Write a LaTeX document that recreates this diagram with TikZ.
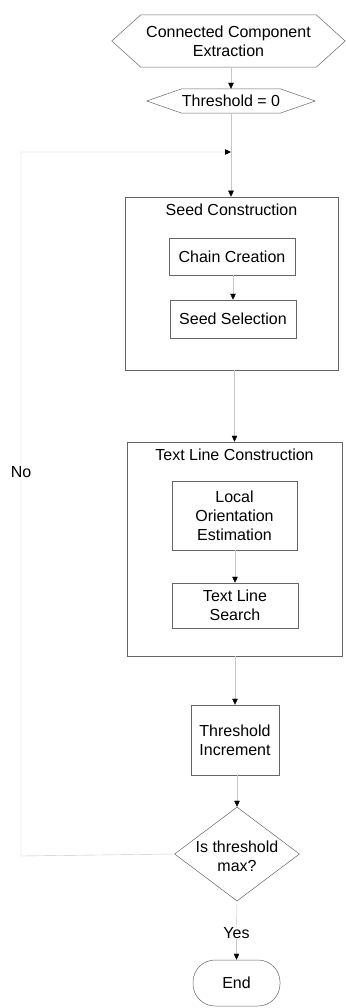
\documentclass[tikz,border=0pt]{standalone}
\usepackage{fontspec}
\setmainfont{Liberation Sans}
\usetikzlibrary{arrows.meta,shapes.geometric,calc}
\begin{document}
\begin{tikzpicture}[x=1pt,y=-1pt,
  every node/.style={font=\fontsize{16}{19}\selectfont, text=black, inner sep=0pt, align=center},
  outline/.style={draw=black!60, line width=0.5pt},
  boxnode/.style={outline, rectangle},
  conn/.style={draw=black!22, line width=0.4pt, -{Triangle[color=black,length=6pt,width=5.5pt]}},
  plainline/.style={draw=black!22, line width=0.4pt},
]
\useasboundingbox (0,0) rectangle (345,1008);

% Connected Component Extraction (hexagon)
\node[minimum width=233pt, minimum height=52pt] (cce) at (228.5,41) {Connected Component\\Extraction};
\draw[outline] (cce.west) -- ([xshift=29pt]cce.north west) -- ([xshift=-29pt]cce.north east) -- (cce.east) -- ([xshift=-29pt]cce.south east) -- ([xshift=29pt]cce.south west) -- cycle;

% Threshold = 0 (hexagon)
\node[minimum width=168pt, minimum height=24pt] (th0) at (231,101) {Threshold = 0};
\draw[outline] (th0.west) -- ([xshift=35pt]th0.north west) -- ([xshift=-35pt]th0.north east) -- (th0.east) -- ([xshift=-35pt]th0.south east) -- ([xshift=35pt]th0.south west) -- cycle;

% Seed Construction container
\node[boxnode, minimum width=213pt, minimum height=173pt] (seedc) at (231.5,283.5) {};
\node (seedt) at (231.5,210) {Seed Construction};
\node[boxnode, minimum width=126pt, minimum height=37pt] (chain) at (232,256.5) {Chain Creation};
\node[boxnode, minimum width=126pt, minimum height=38pt] (seedsel) at (233,319) {Seed Selection};

% Text Line Construction container
\node[boxnode, minimum width=215pt, minimum height=214pt] (tlcc) at (234.5,549) {};
\node (tlct) at (234.5,455) {Text Line Construction};
\node[boxnode, minimum width=125pt, minimum height=69pt] (loe) at (234.5,515.5) {Local\\Orientation\\Estimation};
\node[boxnode, minimum width=126pt, minimum height=45pt] (tls) at (235,605.5) {Text Line\\Search};

% Threshold Increment
\node[boxnode, minimum width=88pt, minimum height=70pt] (ti) at (235,740) {Threshold\\Increment};

% Decision
\node[diamond, outline, minimum width=125pt, minimum height=94pt] (dia) at (237,854) {};
\node (diat) at (237,856) {Is threshold\\max?};

% Yes / End
\node (yes) at (236.5,933) {Yes};
\node[boxnode, rounded corners=22pt, minimum width=87pt, minimum height=46pt] (endn) at (236.5,983) {End};

% loop coordinates
\coordinate (lp1) at (21,856);
\coordinate (lp2) at (21,152);
\coordinate (join) at (231,152);

% connectors
\draw[conn] (th0.north |- cce.south) -- (th0.north);
\draw[conn] (th0.south) -- (th0.south |- seedc.north);
\draw[conn] (dia.west) -- (lp1) -- (lp2) -- (join);
\node[fill=white, inner sep=1pt] (nolbl) at (21,472) {No};
\draw[conn] (seedsel.north |- chain.south) -- (seedsel.north);
\draw[conn] (tlcc.north |- seedc.south) -- (tlcc.north);
\draw[conn] (tls.north |- loe.south) -- (tls.north);
\draw[conn] (ti.north |- tlcc.south) -- (ti.north);
\draw[conn] (dia.north |- ti.south) -- (dia.north);
\draw[plainline] (dia.south) -- (yes.north);
\draw[conn] (yes.south) -- (endn.north);
\end{tikzpicture}
\end{document}
